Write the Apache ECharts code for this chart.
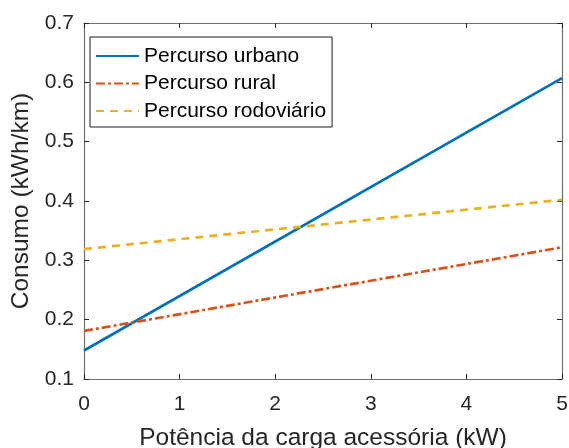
<!DOCTYPE html>
<html>
<head>
<meta charset="utf-8">
<script src="https://cdn.jsdelivr.net/npm/echarts@6/dist/echarts.min.js"></script>
<style>
  html, body { margin: 0; padding: 0; background: #fff; }
  #chart { width: 569px; height: 448px; }
</style>
</head>
<body>
<div id="chart"></div>
<script>
// Accessory load power (kW) at the ends of each line
const potencia = [0, 5];
// Energy consumption (kWh/km) per route type
const urbano = [0.148, 0.607];
const rural = [0.181, 0.322];
const rodoviario = [0.319, 0.402];
const nomes = ['Percurso urbano', 'Percurso rural', 'Percurso rodoviário'];
const xTicks = [0, 1, 2, 3, 4, 5];
const yTicks = [0.1, 0.2, 0.3, 0.4, 0.5, 0.6, 0.7];

const FONT = 'Liberation Sans, Arial, sans-serif';
const TEXT = '#262626';

function pairs(xs, ys) { return xs.map((x, i) => [x, ys[i]]); }

const chart = echarts.init(document.getElementById('chart'));
const axisCommon = {
  axisLine: { show: true, onZero: false, lineStyle: { color: '#707070', width: 1.2 } },
  axisTick: { show: true, inside: true, length: 5, lineStyle: { color: TEXT } },
  splitLine: { show: false }
};
chart.setOption({
  animation: false,
  backgroundColor: '#fff',
  grid: { left: 84, top: 23, width: 478, height: 356, containLabel: false, outerBoundsMode: 'none' },
  legend: {
    left: 90, top: 37,
    orient: 'vertical',
    data: nomes,
    itemWidth: 43, itemHeight: 14, itemGap: 6.5,
    padding: [8.5, 6, 5.5, 5],
    borderColor: '#1a1a1a', borderWidth: 1,
    backgroundColor: '#fff',
    itemStyle: { opacity: 0 },
    textStyle: { fontFamily: FONT, fontSize: 21, color: '#000' }
  },
  xAxis: [
    Object.assign({
      type: 'value', min: 0, max: 5, interval: 1,
      name: 'Potência da carga acessória (kW)',
      nameLocation: 'middle', nameGap: 47,
      nameTextStyle: { fontFamily: FONT, fontSize: 24.5, color: TEXT },
      axisLabel: { fontFamily: FONT, fontSize: 21, color: TEXT, margin: 15,
        formatter: v => xTicks.includes(v) ? String(v) : '' }
    }, axisCommon),
    Object.assign({
      type: 'value', min: 0, max: 5, interval: 1, position: 'top',
      axisLabel: { show: false }
    }, axisCommon)
  ],
  yAxis: [
    Object.assign({
      type: 'value', min: 0.1, max: 0.7, interval: 0.1,
      name: 'Consumo (kWh/km)',
      nameLocation: 'middle', nameGap: 47,
      nameTextStyle: { fontFamily: FONT, fontSize: 24.5, color: TEXT },
      axisLabel: { fontFamily: FONT, fontSize: 21, color: TEXT, margin: 10,
        formatter: v => yTicks.find(t => Math.abs(t - v) < 1e-9) !== undefined ? v.toFixed(1) : '' }
    }, axisCommon),
    Object.assign({
      type: 'value', min: 0.1, max: 0.7, interval: 0.1, position: 'right',
      axisLabel: { show: false }
    }, axisCommon)
  ],
  series: [
    {
      name: nomes[0], type: 'line', showSymbol: false, symbol: 'none',
      data: pairs(potencia, urbano),
      lineStyle: { color: '#0072BD', width: 2.7 },
      itemStyle: { color: '#0072BD' }
    },
    {
      name: nomes[1], type: 'line', showSymbol: false, symbol: 'none',
      data: pairs(potencia, rural),
      lineStyle: { color: '#D95319', width: 2.7, type: [9, 3, 3, 3] },
      itemStyle: { color: '#D95319' }
    },
    {
      name: nomes[2], type: 'line', showSymbol: false, symbol: 'none',
      data: pairs(potencia, rodoviario),
      lineStyle: { color: '#EDB120', width: 2.7, type: [8, 6] },
      itemStyle: { color: '#EDB120' }
    }
  ]
});
</script>
</body>
</html>
